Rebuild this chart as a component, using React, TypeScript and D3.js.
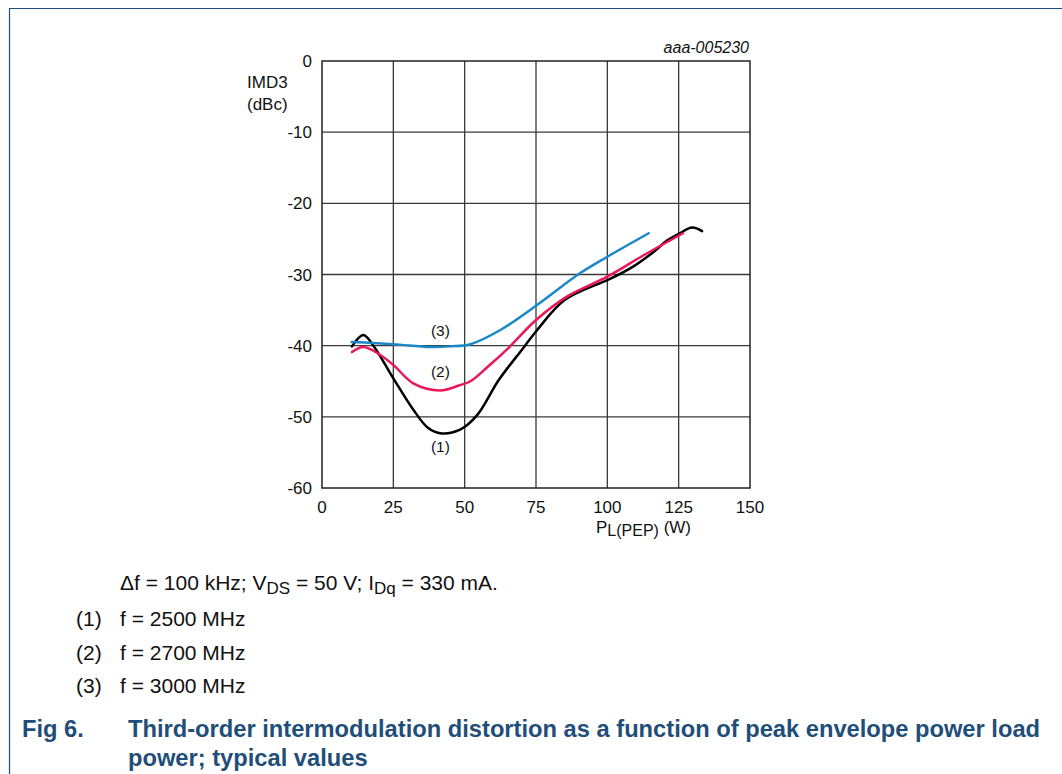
import React from "react";
import * as d3 from "d3";

const xTicks = [0, 25, 50, 75, 100, 125, 150];
const yTicks = [0, -10, -20, -30, -40, -50, -60];

const curve1: [number, number][] = [
  [10.5, -40.1], [14.5, -38.5], [18, -40], [25, -44.6], [32, -49.0], [37, -51.5],
  [41.4, -52.3], [48.4, -51.8], [54.3, -49.8], [62, -44.8], [70, -40.6], [75, -38],
  [85, -33.6], [97.5, -31.2], [100, -30.8], [109, -28.9], [116.3, -26.8], [121, -25.2],
  [125, -24.3], [129.7, -23.4], [133.2, -23.9],
];
const curve2: [number, number][] = [
  [10.5, -40.9], [14.5, -40.2], [20, -41.2], [25, -42.7], [32, -45.3], [41.4, -46.3],
  [48, -45.6], [52, -45], [58, -43], [65.4, -40.3], [75, -36.4], [85.8, -33.1],
  [100, -30.3], [112.7, -27.3], [126.5, -24.2],
];
const curve3: [number, number][] = [
  [10.4, -39.5], [25, -39.8], [37.9, -40.2], [45, -40.1], [52, -39.8], [62.5, -37.8],
  [75, -34.4], [90.5, -29.8], [100, -27.5], [114.5, -24.2],
];

const seriesColors = ["#000000", "#e8185a", "#1a88c8"];
const seriesLabels = ["(1)", "(2)", "(3)"];
const labelPos: [number, number][] = [[41.5, -54.17], [41.5, -43.63], [41.5, -37.87]];
const notes = ["f = 2500 MHz", "f = 2700 MHz", "f = 3000 MHz"];

export default function App() {
  const left = 322, right = 750, top = 61, bottom = 488;
  const x = d3.scaleLinear().domain([0, 150]).range([left, right]);
  const y = d3.scaleLinear().domain([-60, 0]).range([bottom, top]);
  const line = d3
    .line<[number, number]>()
    .x((d) => x(d[0]))
    .y((d) => y(d[1]))
    .curve(d3.curveCatmullRom.alpha(0.5));
  const series = [curve1, curve2, curve3];
  const font = "'Liberation Sans', Arial, sans-serif";
  const navy = "#1f4e79";

  return (
    <svg
      width={1062}
      height={774}
      style={{ position: "absolute", left: 0, top: 0, background: "#fff" }}
      fontFamily={font}
    >
      <rect x={0} y={0} width={1062} height={774} fill="#fff" />
      <line x1={9} y1={8.5} x2={1062} y2={8.5} stroke={navy} strokeWidth={1.2} />
      <line x1={9.5} y1={8} x2={9.5} y2={774} stroke={navy} strokeWidth={1.2} />

      {/* grid */}
      {xTicks.slice(1, -1).map((t) => (
        <line key={"gx" + t} x1={x(t)} x2={x(t)} y1={top} y2={bottom} stroke="#3a3a3a" strokeWidth={1.3} />
      ))}
      {yTicks.slice(1, -1).map((t) => (
        <line key={"gy" + t} x1={left} x2={right} y1={y(t)} y2={y(t)} stroke="#3a3a3a" strokeWidth={1.3} />
      ))}
      <rect x={left} y={top} width={right - left} height={bottom - top} fill="none" stroke="#222" strokeWidth={1.5} />

      {/* tick labels */}
      {xTicks.map((t) => (
        <text key={"xt" + t} x={x(t)} y={513} fontSize={17} textAnchor="middle" fill="#111">
          {t}
        </text>
      ))}
      {yTicks.map((t) => (
        <text key={"yt" + t} x={312} y={y(t) + 6} fontSize={17} textAnchor="end" fill="#111">
          {t}
        </text>
      ))}

      <text x={247} y={88} fontSize={17} fill="#111">IMD3</text>
      <text x={247} y={110} fontSize={17} fill="#111">(dBc)</text>
      <text x={749} y={53} fontSize={16} fontStyle="italic" textAnchor="end" fill="#111">aaa-005230</text>

      <text x={596} y={533} fontSize={17} fill="#111">
        P<tspan fontSize={16} dy={3}>L(PEP)</tspan>
        <tspan dy={-3}> (W)</tspan>
      </text>

      {/* curves */}
      {series.map((s, i) => (
        <path key={"s" + i} d={line(s) || ""} fill="none" stroke={seriesColors[i]} strokeWidth={2.5} strokeLinejoin="round" strokeLinecap="round" />
      ))}
      {labelPos.map((p, i) => (
        <text key={"lb" + i} x={x(p[0])} y={y(p[1]) + 5.5} fontSize={15.5} textAnchor="middle" fill="#111">
          {seriesLabels[i]}
        </text>
      ))}

      {/* notes */}
      <text x={120} y={590} fontSize={21} fill="#111">
        Δf = 100 kHz; V<tspan fontSize={17} dy={4}>DS</tspan>
        <tspan dy={-4}> = 50 V; I</tspan>
        <tspan fontSize={17} dy={4}>Dq</tspan>
        <tspan dy={-4}> = 330 mA.</tspan>
      </text>
      {notes.map((n, i) => (
        <g key={"n" + i}>
          <text x={76} y={626 + i * 33.6} fontSize={21} fill="#111">{seriesLabels[i]}</text>
          <text x={120} y={626 + i * 33.6} fontSize={21} fill="#111">{n}</text>
        </g>
      ))}

      <text x={22} y={737} fontSize={23.7} fontWeight="bold" fill={navy}>Fig 6.</text>
      <text x={128} y={737} fontSize={23.7} fontWeight="bold" fill={navy}>
        Third-order intermodulation distortion as a function of peak envelope power load
      </text>
      <text x={128} y={766} fontSize={23.7} fontWeight="bold" fill={navy}>power; typical values</text>
    </svg>
  );
}
